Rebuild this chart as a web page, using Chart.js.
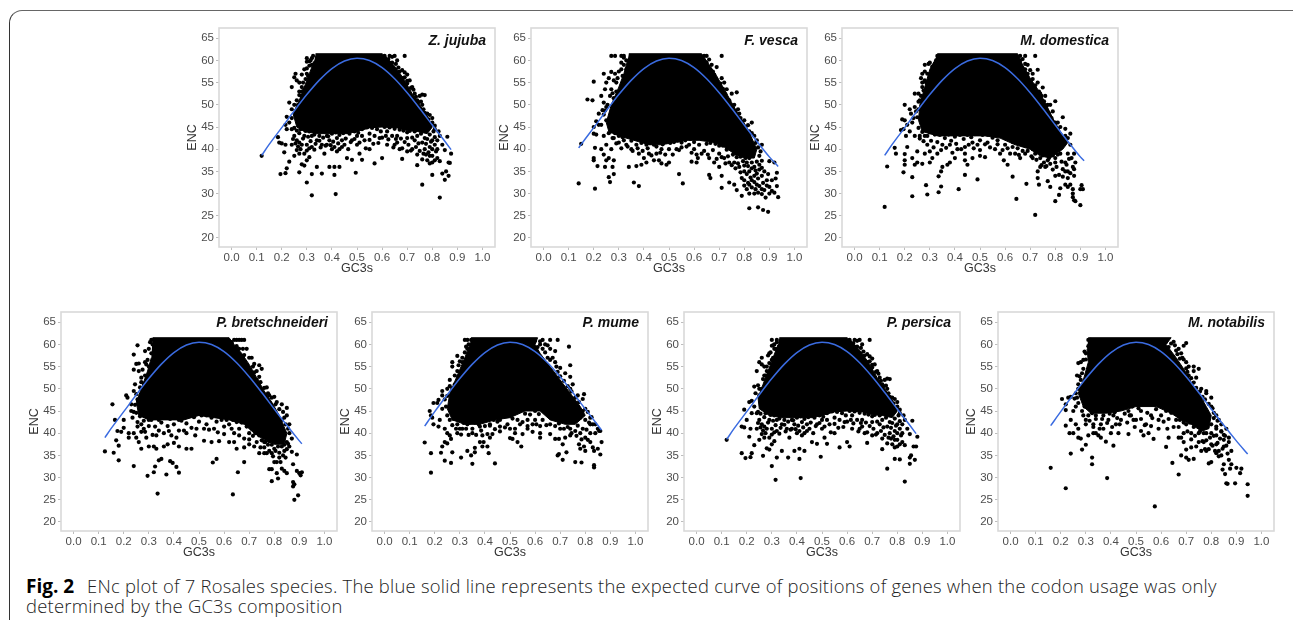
<!DOCTYPE html>
<html><head><meta charset="utf-8">
<script src="https://cdn.jsdelivr.net/npm/chart.js@4"></script>
<style>
html,body{margin:0;padding:0;background:#fff;width:1293px;height:620px;overflow:hidden}
#frame{position:absolute;left:9px;top:10px;width:1300px;height:620px;box-sizing:border-box;border:1.5px solid #333;border-top-color:#666;border-radius:13px 13px 0 0}
canvas{position:absolute;filter:blur(0.35px)}
.cap{position:absolute;left:26px;white-space:nowrap;font-family:"Open Sans",sans-serif;font-size:18.4px;font-weight:300;letter-spacing:.24px;color:#222;line-height:22px}
.cap b{display:inline-block;width:61px;font-size:19px;color:#000;font-weight:700;letter-spacing:0}
</style></head><body>
<div id="frame"></div>
<div id="charts"></div>
<div class="cap" style="top:575px"><b>Fig. 2</b>ENc plot of 7 Rosales species. The blue solid line represents the expected curve of positions of genes when the codon usage was only</div>
<div class="cap" style="top:595px">determined by the GC3s composition</div>
<script>
const xTicks=[0,0.1,0.2,0.3,0.4,0.5,0.6,0.7,0.8,0.9,1.0];
const yTicks=[20,25,30,35,40,45,50,55,60,65];
const curveMid=[[.15,41.08],[.20,44.85],[.25,48.65],[.30,52.3],[.35,55.56],[.40,58.17],[.45,59.88],[.50,60.5],[.55,59.98],[.60,58.37],[.65,55.86],[.70,52.7],[.75,49.15],[.80,45.45],[.85,41.78],[.90,38.27]];

const zjujubaEnds=[[.12,38.6],[.875,39.9]];
const zjujubaMass=[[.335,61.5],[.60,61.5],[.63,60],[.66,58],[.69,55.5],[.72,52.5],[.75,50],[.78,47.5],[.80,45],[.78,43.5],[.74,44],[.70,44.2],[.66,44.8],[.60,45],[.55,44.8],[.50,44],[.46,43.5],[.40,43.5],[.34,43.5],[.29,44],[.26,45],[.245,48],[.27,51],[.29,54],[.31,57],[.33,60]];
const zjujubaPts=[[.30,60.5],[.30,59.7],[.32,60.5],[.33,59.3],[.31,58.8],[.29,58],[.30,57],[.28,56.8],[.255,57],[.25,56.2],[.26,55.5],[.24,54],[.27,55],[.28,54],[.29,53.5],[.27,53],[.28,52],[.26,51],[.23,50.5],[.25,50],[.24,49],[.22,47.3],[.24,47],[.23,46],[.215,45.5],[.22,44.5],[.24,44.5],[.65,61],[.63,61],[.61,61],[.69,61],[.66,60],[.64,59.5],[.69,57.3],[.70,56.8],[.68,56],[.71,55.5],[.70,54.8],[.72,54],[.73,52.5],[.76,52.3],[.75,52],[.77,52.2],[.74,51],[.76,50],[.75,49],[.78,48],[.79,47.7],[.76,47],[.80,46],[.81,45.3],[.79,45],[.83,43],[.86,42.8],[.185,42.7],[.19,41.5],[.2,41.3],[.215,41],[.21,39.3],[.23,37.2],[.22,35.7],[.195,34.4],[.215,34.6],[.27,34.8],[.32,34.4],[.30,32.5],[.32,29.6],[.415,29.9],[.41,34.2],[.36,34.5],[.39,36],[.41,36],[.43,36],[.34,36],[.29,36.3],[.28,36.6],[.30,37.5],[.25,38.5],[.26,39.8],[.27,39],[.29,39],[.31,38.2],[.24,41],[.26,42],[.27,41.5],[.28,41],[.25,43],[.30,41],[.32,40.5],[.34,42],[.36,41],[.37,39],[.38,41],[.39,42],[.40,40],[.41,40.5],[.42,39.5],[.43,40],[.45,41],[.46,38],[.48,37.6],[.48,42],[.49,44],[.50,41],[.51,39],[.52,37.6],[.495,34.7],[.57,36.8],[.60,38],[.55,40],[.57,43],[.59,42.5],[.62,41],[.65,41],[.67,40],[.68,37.8],[.70,39.5],[.72,40],[.74,38.8],[.74,36.4],[.76,37.7],[.78,37.5],[.80,37],[.80,34.2],[.76,32],[.83,29.1],[.83,37.3],[.85,39.8],[.84,34.5],[.85,33.1],[.855,35],[.865,34],[.87,36.9],[.875,39],[.865,37],[.79,38.5],[.77,40],[.79,40.5],[.81,41],[.82,40],[.80,42],[.78,42.3],[.76,41.5],[.73,42],[.70,42.5],[.66,43],[.62,44],[.58,44.5],[.55,43.5],[.52,43],[.50,43],[.44,42],[.42,42.5],[.38,43],[.35,43],[.32,43],[.29,43],[.82,38],[.84,41],[.12,38.5]];
const zjujubaFringe=[[.26,44.2],[.27,43.6],[.275,44.5],[.285,42.4],[.295,44.1],[.305,42.8],[.31,44],[.315,41.8],[.33,43.3],[.335,41.2],[.345,44.2],[.35,41.9],[.355,40.4],[.365,42.6],[.37,44],[.375,40.8],[.385,42.9],[.395,40.9],[.40,43.5],[.405,41.7],[.415,43.8],[.425,41.3],[.43,43.2],[.44,40.5],[.445,43.6],[.455,42.4],[.465,40],[.47,43.5],[.475,41.6],[.49,42.3],[.505,43.7],[.51,41.5],[.52,44.5],[.53,42],[.535,40.2],[.54,44.9],[.55,42.1],[.56,44.8],[.565,41.2],[.575,45.2],[.585,41.4],[.595,44],[.60,42.6],[.61,45],[.615,43],[.625,42.2],[.63,44.9],[.64,43],[.645,40.4],[.65,44.6],[.655,42.3],[.66,41.5],[.67,44.4],[.675,42.4],[.68,40.2],[.685,44.2],[.69,41.6],[.70,43.8],[.705,41],[.71,44.1],[.715,39.7],[.72,42.6],[.73,44],[.735,40.5],[.74,43],[.745,41.3],[.75,39.6],[.755,43.5],[.76,44.5],[.765,39],[.77,42.5],[.775,41.2],[.78,44.5],[.785,39.3],[.79,43.3],[.795,41.7],[.80,38.5],[.805,44],[.81,42.7],[.815,39.5],[.82,42],[.80,40],[.81,37.5],[.79,36.8],[.775,38.8],[.25,44.8],[.255,41.3],[.245,42.3],[.265,40.6],[.275,40],[.3,39.7],[.31,40.2],[.33,39.9],[.255,48.5],[.26,47.8],[.265,50],[.27,52.2],[.28,53],[.285,55],[.295,55.8],[.30,58.2],[.31,59.8],[.315,60],[.32,59],[.325,61],[.305,56.5],[.61,60.7],[.625,60.3],[.64,60.8],[.655,59.2],[.665,58.4],[.67,57.5],[.68,57.8],[.69,56.2],[.70,55.4],[.715,53.8],[.725,53.4],[.735,51.8],[.745,50.6],[.755,50.7],[.765,49],[.77,48.2],[.785,46.7],[.80,47],[.81,44.5],[.825,44]];

const fvescaEnds=[[.14,40.3],[.935,36.1]];
const fvescaMass=[[.34,61.5],[.63,61.5],[.66,59],[.69,56.5],[.72,53.5],[.75,50.5],[.78,47.5],[.81,45],[.83,42.5],[.85,40],[.84,38],[.80,38],[.76,39],[.72,40.5],[.68,41.5],[.62,42],[.57,42],[.52,41.5],[.47,41],[.42,41],[.36,42],[.30,43],[.26,44],[.25,46],[.27,50],[.30,54],[.32,57],[.335,60]];
const fvescaPts=[[.27,61],[.285,61],[.31,61],[.32,61],[.64,61],[.65,61],[.71,61],[.33,60],[.32,59],[.31,58],[.24,57],[.27,57.4],[.28,55.5],[.26,56],[.29,55],[.29,53],[.25,55],[.20,55.2],[.245,53.5],[.23,52],[.265,52],[.28,51.5],[.175,51.2],[.195,51],[.24,50.5],[.25,49.5],[.22,48],[.24,47.8],[.21,46.3],[.20,45],[.15,41.2],[.2,43.5],[.21,43.3],[.67,59],[.69,58.5],[.675,57.5],[.71,56],[.72,55],[.73,53.5],[.75,52.5],[.77,52.8],[.76,50],[.78,48],[.80,46.5],[.83,46],[.82,44],[.84,43],[.87,41],[.85,42],[.205,40.3],[.2,38],[.2,37.5],[.215,36.2],[.24,38.8],[.25,37.5],[.245,36],[.26,38],[.28,37.5],[.275,36],[.26,33.7],[.28,34.4],[.265,32.6],[.14,32.3],[.205,31.1],[.36,32.5],[.38,31.7],[.34,36],[.37,36.2],[.39,36.5],[.41,37],[.44,37.5],[.46,37.5],[.47,36.8],[.49,36.5],[.50,37],[.54,34.4],[.555,32.3],[.59,37.2],[.61,37],[.615,38],[.66,34.2],[.665,33.5],[.68,37],[.70,36],[.71,34],[.71,31.3],[.74,32.5],[.76,32],[.77,30.8],[.79,29.5],[.82,26.7],[.855,26.9],[.875,26.3],[.895,25.9],[.81,31],[.82,30],[.84,30],[.855,30.2],[.80,33],[.83,33],[.85,32],[.87,31],[.87,29.9],[.885,29.1],[.90,30],[.90,31.5],[.93,31.7],[.935,29.2],[.93,34.7],[.91,33],[.89,33],[.88,35],[.86,36.5],[.90,37.3],[.92,37],[.86,38.5],[.84,36],[.82,35],[.80,35],[.78,36],[.76,37],[.74,37],[.72,38],[.70,39],[.66,38],[.63,39],[.60,40],[.58,41],[.55,41.5],[.53,40],[.50,40],[.47,40],[.45,39],[.42,39],[.40,38],[.38,39],[.35,40],[.33,41],[.30,41.5],[.27,40],[.25,41],[.23,40],[.24,43],[.28,42.5],[.32,42],[.37,41],[.41,41],[.44,41],[.84,34],[.83,37],[.81,37],[.79,39],[.77,39],[.87,34],[.85,34.5],[.82,32]];
const fvescaFringe=[[.26,43.6],[.27,44],[.275,42.5],[.285,43.6],[.29,41.3],[.30,43],[.31,40.2],[.315,42.7],[.325,43.6],[.335,40.6],[.34,43.2],[.35,41.9],[.355,39.6],[.365,42.4],[.375,40.2],[.38,43.3],[.39,41.4],[.395,39.6],[.405,42.5],[.415,40.2],[.425,41.4],[.43,38.6],[.44,42.3],[.45,40.6],[.46,41.8],[.465,39.2],[.475,41.1],[.485,38.8],[.49,41.7],[.505,41.4],[.515,38.8],[.52,41.6],[.535,41.9],[.54,39.8],[.55,40.4],[.565,42],[.57,40.6],[.585,42.3],[.59,39.2],[.60,41.6],[.61,38.8],[.62,41],[.63,42.4],[.64,39.6],[.65,41.2],[.655,38.8],[.665,41.4],[.675,39.8],[.685,41.2],[.69,37.8],[.70,40.8],[.71,38.2],[.715,40.8],[.725,36.8],[.73,39.9],[.735,38.4],[.745,40.2],[.75,36.4],[.755,38.8],[.765,35.7],[.77,38.2],[.775,36.8],[.785,38.3],[.785,34.8],[.795,37.3],[.80,36.3],[.805,38],[.81,34.4],[.815,36.2],[.82,38],[.825,33.6],[.83,35.7],[.835,38.5],[.84,32.6],[.845,35.2],[.85,37.2],[.855,33.4],[.86,35.4],[.865,39.5],[.87,37.4],[.80,31.8],[.79,33.5],[.815,32.4],[.83,31.4],[.845,31],[.86,31.7],[.875,32.4],[.87,35.8],[.88,30.8],[.89,31.8],[.895,34.4],[.91,30.6],[.92,30.2],[.925,33.4],[.285,57],[.295,56],[.30,57.5],[.31,59.5],[.315,56.5],[.32,60.6],[.33,58],[.27,53.5],[.275,52.6],[.255,50],[.245,48.7],[.25,46.5],[.235,48.8],[.23,45.5],[.22,45.5],[.64,60],[.65,59.5],[.66,60.2],[.665,58],[.68,56.8],[.69,55.5],[.705,54.8],[.715,53.6],[.725,52.4],[.74,51],[.75,49.8],[.765,48.6],[.775,49],[.785,47],[.80,44.8],[.815,45.4],[.83,43.6],[.845,41.4],[.855,40.4],[.81,43.5]];

const mdomesticaEnds=[[.12,38.6],[.915,37.4]];
const mdomesticaMass=[[.33,61.5],[.65,61.5],[.67,59],[.70,56],[.73,53.5],[.76,50.5],[.79,47],[.82,44],[.85,41.5],[.83,40],[.78,38],[.74,38.5],[.70,40],[.64,41],[.58,42.5],[.52,43],[.46,43],[.40,43],[.33,43],[.27,44],[.255,46.5],[.26,50],[.28,54],[.30,58],[.32,60]];
const mdomesticaPts=[[.28,59],[.295,59.2],[.325,60],[.34,60],[.27,57],[.265,56],[.28,57.5],[.27,55],[.28,55.5],[.27,54],[.24,52.5],[.255,52.5],[.265,52],[.27,51],[.2,50],[.24,49.5],[.255,49],[.22,49],[.225,48],[.19,46.7],[.2,46.5],[.185,44.3],[.195,44.5],[.21,45.5],[.23,46],[.22,44],[.205,43],[.16,40.3],[.165,39],[.13,36.1],[.20,38.9],[.21,40.5],[.2,37.5],[.2,36.5],[.195,34.8],[.23,33.7],[.23,29.4],[.12,27],[.285,31.9],[.29,29.8],[.335,30.3],[.345,31.6],[.335,33.9],[.415,31],[.44,34.2],[.49,33.2],[.63,33.8],[.645,28.8],[.685,32.2],[.72,25.2],[.73,33.5],[.735,32],[.77,32.8],[.78,31.5],[.80,28.3],[.815,29.7],[.82,31.2],[.85,31.5],[.87,30],[.875,28.5],[.88,28.3],[.9,27.4],[.905,31.9],[.91,31],[.9,31],[.87,31],[.87,29.2],[.875,34],[.88,37],[.87,36],[.85,35],[.83,35.5],[.84,37],[.80,37],[.80,34],[.76,36],[.74,36],[.73,35],[.68,39],[.66,38],[.64,39],[.62,39],[.61,36.5],[.595,37.5],[.58,39],[.56,40],[.52,38.2],[.50,38.5],[.47,38],[.45,36.5],[.44,37.5],[.40,38],[.38,37],[.37,36.5],[.35,36],[.345,35],[.30,37],[.31,38],[.27,36.7],[.25,37],[.24,36.5],[.23,38],[.25,39.5],[.28,39],[.30,39.5],[.33,39],[.35,41],[.38,41],[.41,40],[.44,40.5],[.47,41.5],[.50,42],[.53,41.5],[.57,42],[.60,41],[.63,40.5],[.67,41],[.71,38],[.77,37.5],[.82,39],[.85,39],[.875,39],[.84,43],[.86,43.5],[.83,47.2],[.81,46],[.80,50.8],[.78,50],[.79,48.5],[.76,52],[.74,52.5],[.75,53.9],[.73,55],[.70,55],[.73,57.9],[.68,58],[.69,59],[.68,61],[.66,61],[.72,61],[.71,57],[.77,50],[.26,43],[.29,43],[.24,43]];
const mdomesticaFringe=[[.255,44.8],[.26,42.4],[.27,43.9],[.275,41.8],[.28,43],[.29,41],[.30,43.8],[.305,41.9],[.315,40.4],[.32,43.3],[.33,41.6],[.34,43.2],[.345,39.8],[.36,42.5],[.365,40.3],[.375,43.3],[.385,41.9],[.39,39.2],[.40,42.8],[.405,41.2],[.42,43.2],[.425,40],[.435,42.3],[.44,39],[.45,43.2],[.455,41],[.465,42.7],[.475,40.2],[.48,43.4],[.49,41],[.50,39.8],[.51,43.2],[.52,41.1],[.53,43.3],[.54,40.4],[.55,42.6],[.56,43.7],[.57,41.1],[.58,43.3],[.59,39.8],[.60,42.5],[.61,40.2],[.62,43],[.63,41.6],[.64,42.8],[.65,40.2],[.655,38.7],[.66,42.6],[.67,39.6],[.68,41.8],[.69,39.6],[.70,40.6],[.705,38.4],[.71,40],[.72,39],[.725,37.6],[.73,39.7],[.74,38],[.745,36.4],[.75,38.6],[.755,37],[.76,38.8],[.765,36.2],[.775,38],[.78,36.7],[.79,38.6],[.79,35.4],[.80,38],[.805,36],[.81,38.8],[.815,34.2],[.825,37.2],[.83,33.8],[.84,35],[.845,36.5],[.85,33.5],[.855,37.8],[.86,34.6],[.865,38],[.875,35.5],[.86,32],[.84,32],[.30,59.5],[.31,58.6],[.32,59.3],[.33,61],[.29,57],[.285,55],[.275,53.2],[.285,53.5],[.26,51],[.255,50.7],[.245,48.5],[.25,47.2],[.235,47],[.66,60],[.67,60.3],[.68,59.2],[.67,58],[.69,57],[.70,57.8],[.71,55.8],[.72,54.4],[.735,53],[.745,52],[.755,50.8],[.765,49.8],[.775,48],[.785,47],[.80,46],[.81,44.6],[.82,45],[.84,44.6],[.85,42.5],[.86,41],[.83,42.4]];

const pbretEnds=[[.125,39],[.91,37.6]];
const pbretMass=[[.315,61.5],[.62,61.5],[.64,60],[.67,58],[.70,55.5],[.73,52.5],[.76,49.5],[.79,47],[.82,44],[.85,40],[.84,37.5],[.80,37.5],[.76,38.5],[.72,40],[.68,42],[.62,43],[.56,43.5],[.50,44],[.44,43],[.38,43],[.30,43],[.26,44],[.25,47],[.27,50],[.295,54],[.31,57]];
const pbretPts=[[.31,61],[.64,61],[.65,61],[.66,61],[.67,61],[.68,61],[.255,59.8],[.285,58.5],[.24,57.7],[.25,55.6],[.26,55.7],[.24,54.3],[.26,54],[.29,55.5],[.285,53],[.27,52.5],[.27,51.5],[.245,51],[.24,49.5],[.21,48.5],[.215,48],[.23,46.5],[.155,46.5],[.165,43],[.23,45],[.235,43.5],[.255,42.5],[.27,42],[.2,43],[.20,41.2],[.175,40.5],[.19,40.3],[.17,38.4],[.22,40],[.22,39],[.18,37.2],[.125,35.9],[.16,35.6],[.18,33.9],[.24,32.6],[.295,30.4],[.32,31.2],[.325,32.5],[.34,33.9],[.35,34.2],[.385,33.7],[.395,33.3],[.37,30.7],[.41,32.4],[.42,31.1],[.335,26.4],[.635,26.2],[.655,31.2],[.68,33.5],[.555,33.4],[.57,34.2],[.78,31.9],[.79,31.9],[.81,31],[.79,29.2],[.815,29.8],[.83,32],[.84,31.5],[.85,31],[.875,29],[.88,28.5],[.875,28],[.88,25],[.895,26],[.89,31.5],[.90,31],[.905,30.5],[.91,31.2],[.875,33],[.87,35.8],[.89,35.2],[.86,37],[.84,36],[.82,34.5],[.80,33.5],[.78,36],[.76,35.5],[.74,35.5],[.72,37],[.70,37.5],[.68,36.8],[.65,36.5],[.64,38],[.62,38],[.58,38.2],[.55,38],[.52,38.3],[.47,36.5],[.45,36.5],[.42,37],[.40,37.8],[.375,37.5],[.36,37],[.33,36.5],[.32,37],[.30,37],[.27,36.5],[.26,38],[.25,39],[.24,40],[.29,39],[.33,39.5],[.38,40.5],[.41,39],[.45,40],[.49,41],[.53,42],[.56,41],[.60,41.5],[.63,41],[.66,39.5],[.70,40],[.80,36.5],[.83,37],[.85,38],[.87,38.8],[.86,40],[.85,45.7],[.83,46.5],[.81,47],[.78,48.5],[.80,48.2],[.76,50.2],[.73,52],[.75,54.5],[.74,55.3],[.71,57],[.69,59],[.66,59],[.72,53.7],[.86,42],[.84,43.5],[.85,44],[.76,38],[.30,43],[.34,43],[.42,43],[.28,41]];
const pbretFringe=[[.25,44.6],[.255,41.5],[.265,43.8],[.27,40.3],[.28,42.8],[.285,40.3],[.29,44],[.30,41.6],[.31,43],[.315,39.6],[.325,41.5],[.335,43.4],[.34,40.6],[.35,42.4],[.36,40],[.365,43.6],[.375,41.6],[.385,43.2],[.39,39.5],[.40,42],[.41,43.5],[.42,40.6],[.43,42.8],[.44,40.6],[.45,42.2],[.46,43.9],[.47,41.2],[.48,43.6],[.485,39.5],[.50,42.6],[.51,44],[.52,41],[.53,44],[.54,40.8],[.55,43.5],[.57,42.6],[.575,40.2],[.59,43],[.60,39.8],[.61,43],[.62,42],[.635,43],[.64,40],[.65,42.5],[.66,41],[.67,42.4],[.68,38.8],[.69,41.5],[.70,38.6],[.71,41],[.715,39.4],[.725,40],[.73,38],[.74,39.5],[.745,36.8],[.75,38.4],[.76,36.8],[.765,38],[.77,35.5],[.775,37.4],[.78,38.2],[.79,35.5],[.79,37.4],[.795,34.8],[.805,36],[.81,33.5],[.815,37],[.82,35.6],[.825,33.5],[.83,38],[.835,35],[.84,37.4],[.845,34.5],[.85,36.4],[.855,37.6],[.80,39.4],[.82,39],[.84,39.5],[.77,39],[.75,40.4],[.30,59],[.31,58],[.305,60.5],[.315,60],[.32,61],[.295,56.5],[.285,56],[.30,55],[.275,54.3],[.28,51.2],[.265,50.3],[.25,48.8],[.255,47.6],[.245,46.4],[.24,44.8],[.63,60.5],[.65,59.6],[.675,59],[.68,57.6],[.70,57],[.715,55],[.72,55.6],[.73,54],[.74,52.7],[.745,51.5],[.77,50.3],[.775,49],[.79,48],[.805,46.5],[.82,45.4],[.835,44.8],[.83,43],[.845,42],[.855,41]];

const pmumeEnds=[[.16,41.6],[.865,40.7]];
const pmumeMass=[[.345,61.5],[.61,61.5],[.60,60],[.62,58],[.66,55],[.70,52],[.74,49],[.78,46],[.80,44],[.76,42],[.72,42],[.66,43],[.62,45],[.56,45],[.50,43.5],[.44,43],[.38,42],[.32,42],[.27,43],[.25,45.5],[.26,49],[.29,53],[.32,57],[.34,60]];
const pmumePts=[[.32,61],[.33,61],[.35,60],[.37,60],[.33,59],[.63,61],[.66,61],[.69,61],[.64,60],[.62,60],[.66,59],[.68,58.5],[.735,59.5],[.65,57],[.68,56],[.7,54.7],[.74,55.3],[.72,53.5],[.74,52.7],[.75,51],[.74,50],[.77,48.5],[.795,48.8],[.79,47.7],[.80,45.5],[.82,43.5],[.83,42],[.85,41],[.86,40.5],[.29,57.4],[.27,56],[.27,55],[.295,55.3],[.31,56],[.28,53],[.26,52],[.25,50],[.23,49.5],[.23,48.5],[.195,46.8],[.21,46.8],[.215,47.5],[.18,45],[.185,44],[.19,43.5],[.195,42],[.22,43],[.215,41.5],[.24,41],[.25,40],[.26,39.5],[.29,40],[.31,41],[.16,37.9],[.185,35.5],[.23,37],[.225,35.6],[.24,38],[.25,37.7],[.265,38.7],[.27,35.7],[.24,33.8],[.265,33.3],[.185,31.1],[.305,34.5],[.35,33.1],[.345,35],[.36,35.7],[.33,36],[.36,36.7],[.39,37],[.41,37],[.415,35.5],[.44,33.2],[.395,38],[.38,38],[.39,39.5],[.42,39],[.43,39.8],[.46,41.5],[.50,38.9],[.51,38.7],[.545,37],[.53,38],[.55,39.8],[.57,41],[.59,40.3],[.62,40],[.62,39],[.66,39.8],[.68,38.7],[.695,38.7],[.71,37.5],[.695,35.3],[.69,35],[.71,34],[.725,35.7],[.76,33.5],[.785,33.4],[.775,37.5],[.78,36.5],[.795,37],[.80,36],[.83,36.8],[.835,36],[.835,32.8],[.835,32.3],[.85,36.5],[.86,35.2],[.865,38],[.80,39],[.81,38.5],[.82,40],[.78,40],[.76,40.5],[.74,41],[.72,39],[.74,39.5],[.70,41],[.66,42],[.63,43],[.60,43],[.57,43],[.54,42],[.52,41],[.49,42],[.46,43],[.42,42],[.38,41.5],[.35,41],[.33,42],[.29,42],[.84,40],[.82,42],[.855,40.5]];
const pmumeFringe=[[.25,44],[.26,43],[.27,41.8],[.275,43.2],[.285,41],[.295,43],[.30,41],[.305,39.7],[.315,42.3],[.325,41],[.335,39.6],[.34,42.4],[.35,40],[.36,42.4],[.365,39.6],[.375,42],[.385,40.6],[.40,41.6],[.41,39.8],[.42,41.7],[.435,43],[.44,40.9],[.45,42.6],[.46,40.4],[.47,43.8],[.48,41.3],[.49,44],[.50,41],[.51,43.3],[.52,40],[.53,43],[.54,45],[.55,42.5],[.56,44.4],[.57,41.6],[.58,44.2],[.59,42],[.60,45],[.605,42],[.615,44.3],[.62,41.6],[.64,44.8],[.645,41.8],[.655,45.6],[.67,43.6],[.68,41.6],[.685,44.5],[.695,42.2],[.705,44.6],[.715,41],[.72,44],[.73,41.4],[.735,43.2],[.745,40],[.75,42.6],[.76,44],[.765,39.4],[.77,41.7],[.78,43.5],[.785,38.6],[.79,41],[.80,43],[.805,40.8],[.815,42.4],[.82,38],[.825,43.6],[.84,42],[.345,61],[.335,60],[.325,59.5],[.32,58.2],[.31,57],[.30,56.2],[.29,54],[.295,52.8],[.28,51],[.27,50],[.26,50.6],[.25,48.4],[.24,47.6],[.245,46],[.23,45.5],[.60,60.8],[.62,60.7],[.61,59.4],[.63,59],[.65,59.8],[.64,58.2],[.67,57],[.685,55],[.66,56.5],[.69,53.8],[.70,52.8],[.715,51.8],[.73,50.6],[.745,49.4],[.76,48],[.775,47],[.79,45],[.81,44.8]];

const ppersicaEnds=[[.12,38.6],[.875,39.9]];
const ppersicaMass=[[.33,61.5],[.60,61.5],[.63,60],[.66,58],[.69,55.5],[.72,52.5],[.75,50],[.78,47.5],[.80,45],[.78,43.5],[.74,44],[.70,44.2],[.66,44.8],[.60,45],[.55,44.8],[.50,44],[.46,43.5],[.40,43.5],[.34,43.5],[.29,44],[.25,45.5],[.245,48],[.265,51],[.285,54],[.305,57],[.325,60]];
const ppersicaPts=[[.30,61],[.32,60.5],[.30,59.7],[.31,59],[.33,59.5],[.29,58],[.285,57.5],[.305,57],[.26,57],[.25,56],[.26,55.5],[.24,54],[.27,55],[.28,54],[.29,53.5],[.27,53],[.28,52],[.245,50.8],[.23,50.5],[.25,50],[.235,49],[.22,47.3],[.21,47],[.23,46],[.19,45.3],[.22,44.5],[.24,44.5],[.65,61],[.63,61],[.61,61],[.69,61],[.66,60],[.64,59.5],[.69,57.3],[.70,56.8],[.68,56],[.71,55.5],[.70,54.8],[.72,54],[.73,52.5],[.76,52.3],[.75,52],[.77,52.2],[.74,51],[.76,50],[.75,49],[.78,48],[.79,47.7],[.76,47],[.80,46],[.81,45.3],[.79,45],[.83,43],[.86,42.8],[.18,41.5],[.19,41.3],[.2,43],[.215,41],[.21,39.2],[.23,37.3],[.18,35.5],[.22,35.5],[.195,34.4],[.215,34.6],[.265,34.9],[.32,34.5],[.30,32.6],[.315,29.5],[.415,29.9],[.41,34.2],[.365,34.5],[.34,36],[.39,36],[.41,36.5],[.43,36],[.29,36.3],[.28,36.6],[.30,37.5],[.25,38.5],[.26,39.8],[.27,39],[.29,39],[.31,38.2],[.24,41],[.26,42],[.27,41.5],[.28,41],[.25,43],[.30,41],[.32,40.5],[.34,42],[.36,41],[.37,39],[.38,41],[.39,42],[.40,40],[.41,40.5],[.42,39.5],[.43,40],[.45,41],[.46,38],[.48,37.6],[.48,42],[.49,44],[.50,41],[.51,39],[.52,37.6],[.495,34.7],[.57,36.8],[.60,38],[.61,37],[.55,40],[.57,43],[.59,42.5],[.62,41],[.65,41],[.67,40],[.68,37.8],[.70,39.5],[.72,40],[.74,38.8],[.74,36.4],[.76,37.7],[.78,37.5],[.80,37],[.79,34.2],[.81,34.1],[.76,32],[.83,29.1],[.83,37.3],[.85,39.8],[.85,34.5],[.85,33.1],[.855,35],[.87,34],[.875,37],[.88,39.2],[.865,37],[.79,38.5],[.77,40],[.79,40.5],[.81,41],[.82,40],[.80,42],[.78,42.3],[.76,41.5],[.73,42],[.70,42.5],[.66,43],[.62,44],[.58,44.5],[.55,43.5],[.52,43],[.50,43],[.44,42],[.42,42.5],[.38,43],[.35,43],[.32,43],[.29,43],[.82,38],[.84,41],[.12,38.5]];
const ppersicaFringe=[[.255,44.4],[.27,43.6],[.275,44.5],[.285,42.4],[.295,44.1],[.305,42.8],[.31,44],[.315,41.8],[.33,43.3],[.335,41.2],[.345,44.2],[.35,41.9],[.355,40.4],[.365,42.6],[.37,44],[.375,40.8],[.385,42.9],[.395,40.9],[.40,43.5],[.405,41.7],[.415,43.8],[.425,41.3],[.43,43.2],[.44,40.5],[.445,43.6],[.455,42.4],[.465,40],[.47,43.5],[.475,41.6],[.49,42.3],[.505,43.7],[.51,41.5],[.52,44.5],[.53,42],[.535,40.2],[.54,44.9],[.55,42.1],[.56,44.8],[.565,41.2],[.575,45.2],[.585,41.4],[.595,44],[.60,42.6],[.61,45],[.615,43],[.625,42.2],[.63,44.9],[.64,43],[.645,40.4],[.65,44.6],[.655,42.3],[.66,41.5],[.67,44.4],[.675,42.4],[.68,40.2],[.685,44.2],[.69,41.6],[.70,43.8],[.705,41],[.71,44.1],[.715,39.7],[.72,42.6],[.73,44],[.735,40.5],[.74,43],[.745,41.3],[.75,39.6],[.755,43.5],[.76,44.5],[.765,39],[.77,42.5],[.775,41.2],[.78,44.5],[.785,39.3],[.79,43.3],[.795,41.7],[.80,38.5],[.805,44],[.81,42.7],[.815,39.5],[.82,42],[.80,40],[.81,37.5],[.79,36.8],[.775,38.8],[.245,44.8],[.255,41.3],[.245,42.3],[.265,40.6],[.275,40],[.3,39.7],[.31,40.2],[.33,39.9],[.25,48.5],[.255,47.8],[.26,50],[.265,52.2],[.275,53],[.28,55],[.29,55.8],[.295,58.2],[.305,59.8],[.31,60],[.315,59],[.32,61],[.30,56.5],[.61,60.7],[.625,60.3],[.64,60.8],[.655,59.2],[.665,58.4],[.67,57.5],[.68,57.8],[.69,56.2],[.70,55.4],[.715,53.8],[.725,53.4],[.735,51.8],[.745,50.6],[.755,50.7],[.765,49],[.77,48.2],[.785,46.7],[.80,47],[.81,44.5],[.825,44]];

const mnotabilisEnds=[[.16,41.7],[.945,35.3]];
const mnotabilisMass=[[.31,61.5],[.64,61.5],[.62,60],[.66,57],[.69,54.5],[.72,51.5],[.75,49],[.78,46],[.80,44],[.79,41],[.76,40.5],[.72,42],[.68,43],[.64,44.5],[.58,46],[.50,46],[.44,45],[.38,44.5],[.32,44.5],[.29,46],[.27,49],[.29,52],[.31,56],[.305,59]];
const mnotabilisPts=[[.31,61],[.33,60.5],[.345,60],[.65,60.6],[.62,60.6],[.70,60.3],[.69,59.7],[.67,59],[.68,58],[.685,57],[.70,56],[.71,55],[.73,55],[.75,54.5],[.73,54],[.74,52.5],[.71,53],[.76,50],[.78,49.5],[.78,49],[.80,48],[.80,46],[.82,44],[.84,42],[.86,41],[.87,39],[.85,38.5],[.82,37.5],[.80,37.5],[.78,36],[.76,36],[.72,36.8],[.70,36.3],[.70,34.5],[.68,35],[.73,34.2],[.71,34],[.67,30.7],[.30,58],[.28,56],[.27,55.8],[.29,56.5],[.265,53],[.28,52],[.27,51],[.26,49],[.24,48.2],[.205,47.7],[.23,48],[.22,46.5],[.22,45.2],[.26,46],[.25,45],[.24,43],[.22,41.7],[.26,42],[.27,41],[.25,40],[.235,40],[.27,39],[.28,38.8],[.24,35.4],[.285,36.3],[.30,37.4],[.325,34.5],[.325,33],[.16,32.2],[.22,27.6],[.385,29.9],[.41,37.2],[.38,38.1],[.36,39],[.33,40],[.34,40],[.35,39.5],[.31,39.5],[.30,42],[.33,42],[.36,42],[.39,43],[.42,42],[.43,40],[.40,40],[.47,39.8],[.52,40.5],[.53,39.5],[.55,40],[.57,38.7],[.54,42],[.50,43],[.47,45],[.44,43],[.59,41],[.625,41],[.63,39],[.62,36.9],[.575,23.5],[.645,33.3],[.67,39],[.69,40],[.72,40],[.75,40],[.80,33.5],[.79,33.2],[.82,35.5],[.84,35],[.85,33],[.845,31.8],[.855,30.8],[.86,28.7],[.865,28.6],[.895,28.7],[.87,34],[.88,36],[.875,32],[.90,32.2],[.92,32],[.915,31],[.945,28.5],[.945,25.9],[.88,33],[.85,37],[.83,36],[.87,38],[.78,40],[.80,40],[.82,39.5],[.77,38],[.74,37],[.69,38],[.60,44],[.56,44],[.52,45],[.48,44],[.41,44],[.37,44],[.34,44],[.31,44],[.29,44],[.66,43],[.70,42],[.74,42],[.77,41],[.80,42],[.82,41]];
const mnotabilisFringe=[[.285,45],[.295,46],[.30,43],[.31,46],[.315,42.8],[.325,44.5],[.33,41.4],[.34,43.2],[.35,45],[.355,41],[.365,43.2],[.37,41],[.38,45],[.385,42.3],[.395,44.4],[.405,41.4],[.415,44.7],[.425,43.4],[.435,42],[.44,45.8],[.455,44.4],[.465,42.4],[.475,44],[.485,46],[.49,43],[.495,41.4],[.51,45.6],[.52,43.2],[.53,46.6],[.535,41.8],[.545,44.6],[.555,47],[.56,41.6],[.565,43.4],[.58,45.4],[.59,43],[.60,46.4],[.61,42.6],[.62,45],[.63,43.2],[.64,44.6],[.65,41.4],[.66,44.8],[.67,41.4],[.675,43],[.68,39],[.69,42.4],[.70,44],[.705,40.4],[.715,42.4],[.72,38.6],[.73,41.4],[.735,39.4],[.745,41.8],[.75,38],[.755,40.4],[.765,38.2],[.77,40],[.775,36.4],[.78,38.4],[.785,41.4],[.79,36.4],[.795,39],[.805,37.2],[.81,39.4],[.815,36],[.82,41.5],[.825,37.8],[.83,34.8],[.835,38.8],[.84,40.4],[.845,36.5],[.855,39.4],[.86,37.2],[.865,35.4],[.83,43],[.81,43.4],[.295,58.4],[.31,59.6],[.32,61],[.30,56.6],[.29,54.5],[.285,53.5],[.275,52.8],[.27,50],[.265,48],[.28,50.4],[.27,46.8],[.255,47.8],[.64,60.2],[.655,59.8],[.63,59.4],[.66,58.6],[.665,57.8],[.675,56.8],[.69,56.6],[.70,54.6],[.705,53.8],[.72,52.4],[.73,51.4],[.74,50.2],[.755,49.4],[.765,48.2],[.775,47.6],[.79,46.6],[.805,45.6],[.81,44.6],[.825,42.8],[.84,40.4],[.85,39.6]];

const panels=[
 {name:'Z. jujuba',pts:[...zjujubaPts,...zjujubaFringe],mass:zjujubaMass,ends:zjujubaEnds,l:219,t:28,lab:13},
 {name:'F. vesca',pts:[...fvescaPts,...fvescaFringe],mass:fvescaMass,ends:fvescaEnds,l:531,t:28,lab:13},
 {name:'M. domestica',pts:[...mdomesticaPts,...mdomesticaFringe],mass:mdomesticaMass,ends:mdomesticaEnds,l:842,t:28,lab:13},
 {name:'P. bretschneideri',pts:[...pbretPts,...pbretFringe],mass:pbretMass,ends:pbretEnds,l:61,t:312,lab:11.5},
 {name:'P. mume',pts:[...pmumePts,...pmumeFringe],mass:pmumeMass,ends:pmumeEnds,l:372,t:312,lab:11.5},
 {name:'P. persica',pts:[...ppersicaPts,...ppersicaFringe],mass:ppersicaMass,ends:ppersicaEnds,l:684,t:312,lab:11.5},
 {name:'M. notabilis',pts:[...mnotabilisPts,...mnotabilisFringe],mass:mnotabilisMass,ends:mnotabilisEnds,l:998,t:312,lab:11.5}
];
const toXY=a=>a.map(p=>({x:p[0],y:p[1]}));
const W=276,H=219,AL=36,AB=32,PT=10,PR=6;
const FONT='"Liberation Sans",Arial,sans-serif';
const speciesLabel={id:'speciesLabel',afterDraw(c,_,o){const g=c.ctx,a=c.chartArea;g.save();g.font='italic bold 14px '+FONT;g.fillStyle='#111';g.textAlign='right';g.textBaseline='middle';g.fillText(o.text,a.right-9,a.top+o.dy);g.restore();}};
const box={id:'box',afterDatasetsDraw(c){const g=c.ctx,a=c.chartArea;g.save();g.strokeStyle='#d9d9d9';g.lineWidth=1.6;g.strokeRect(a.left,a.top,a.width,a.height);g.restore();}};

panels.forEach(p=>{
 const cv=document.createElement('canvas');
 cv.width=AL+W+PR;cv.height=PT+H+AB;
 cv.style.left=(p.l-AL)+'px';cv.style.top=(p.t-PT)+'px';
 cv.style.width=cv.width+'px';cv.style.height=cv.height+'px';
 document.getElementById('charts').appendChild(cv);
 const curve=[p.ends[0],...curveMid.filter(q=>q[0]>p.ends[0][0]&&q[0]<p.ends[1][0]),p.ends[1]];
 new Chart(cv,{type:'scatter',
  data:{datasets:[
   {data:toXY(curve),showLine:true,pointRadius:0,borderColor:'#3a6be0',borderWidth:1.5,cubicInterpolationMode:'monotone',fill:false},
   {data:toXY(p.pts),pointRadius:2.1,pointBackgroundColor:'#000',pointBorderWidth:0,showLine:false},
   {data:toXY(p.mass),showLine:true,pointRadius:0,borderColor:'#000',borderWidth:1,backgroundColor:'#000',fill:'shape',tension:0}
  ]},
  options:{responsive:false,animation:false,events:[],devicePixelRatio:1,
   layout:{padding:{top:PT,right:PR,left:0,bottom:0}},
   plugins:{legend:{display:false},tooltip:{enabled:false},speciesLabel:{text:p.name,dy:p.lab}},
   scales:{
    x:{type:'linear',min:-0.05,max:1.05,afterBuildTicks(s){s.ticks=xTicks.map(v=>({value:v}));},afterFit(s){s.height=AB;},
     grid:{drawOnChartArea:false,tickLength:3,color:'#bdbdbd',lineWidth:1},border:{display:false},
     ticks:{font:{family:FONT,size:11.5},color:'#4d4d4d',padding:1,maxRotation:0,callback:v=>v.toFixed(1)},
     title:{display:true,text:'GC3s',font:{family:FONT,size:12.5},color:'#333',padding:{top:0,bottom:2.5}}},
    y:{type:'linear',min:17.97,max:67.3,afterBuildTicks(s){s.ticks=yTicks.map(v=>({value:v}));},afterFit(s){s.width=AL;},
     grid:{drawOnChartArea:false,tickLength:3,color:'#bdbdbd',lineWidth:1},border:{display:false},
     ticks:{font:{family:FONT,size:11.5},color:'#4d4d4d',padding:2,callback:v=>String(v)},
     title:{display:true,text:'ENC',font:{family:FONT,size:12.5},color:'#333',padding:{top:1.8,bottom:0}}}
   }},
  plugins:[speciesLabel,box]});
});
</script>
</body></html>
